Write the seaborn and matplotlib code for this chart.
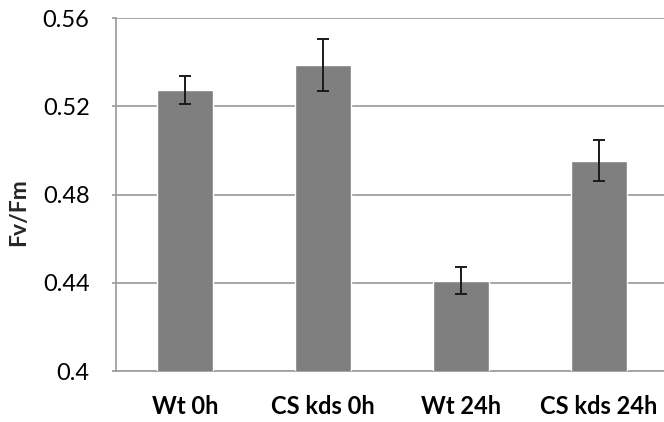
import numpy as np
import pandas as pd
import matplotlib
matplotlib.use('Agg')
import matplotlib.pyplot as plt
import seaborn as sns

# ── Data ──────────────────────────────────────────────────────────────────────
groups = ["Wt 0h", "CS kds 0h", "Wt 24h", "CS kds 24h"]
fvfm   = [0.5273, 0.5387, 0.4410, 0.4953]
err    = [0.0063, 0.0117, 0.0062, 0.0092]
yticks = [0.4, 0.44, 0.48, 0.52, 0.56]

df = pd.DataFrame({"group": groups, "fvfm": fvfm})

sns.set_style("white")
plt.rcParams['font.family'] = ['Lato', 'DejaVu Sans']

fig = plt.figure(figsize=(6.64, 4.22), dpi=100)
fig.patch.set_facecolor("white")
# axes run slightly past the right edge, as in the cropped original
ax = fig.add_axes([116/664, 51/422, 552/664, 353/422])

sns.barplot(data=df, x="group", y="fvfm", color="#7f7f7f", saturation=1,
            width=0.40, errorbar=None, ax=ax, zorder=3)
ax.errorbar(groups, fvfm, yerr=err, fmt="none", ecolor="#1a1a1a",
            elinewidth=1.4, capsize=4.5, capthick=1.4, zorder=4)

ax.set_xlim(-0.5, 3.5)
ax.set_ylim(0.4, 0.56)
ax.set_yticks(yticks)
ax.set_yticklabels(["0.4", "0.44", "0.48", "0.52", "0.56"])
ax.yaxis.grid(True, color="#a0a0a0", linewidth=1.3, zorder=0)
ax.set_axisbelow(True)

for side in ["top", "right"]:
    ax.spines[side].set_visible(False)
for side in ["left", "bottom"]:
    ax.spines[side].set_color("#a0a0a0")
    ax.spines[side].set_linewidth(1.3)

ax.tick_params(axis="y", length=3, color="#a0a0a0", width=1.3, pad=16,
               labelsize=17, labelcolor="black", left=True)
ax.tick_params(axis="x", length=0, pad=17, labelsize=17, labelcolor="black")
for lbl in ax.get_xticklabels():
    lbl.set_fontweight("bold")

ax.set_xlabel("")
ax.set_ylabel("")
# y label sits a bit below the axis middle in the original
fig.text(19/664, 1 - 212/422, "Fv/Fm", rotation=90, ha="center", va="center",
         fontsize=16.5, fontweight="bold")

plt.savefig("out.png", dpi=100, facecolor="white")
plt.close()
